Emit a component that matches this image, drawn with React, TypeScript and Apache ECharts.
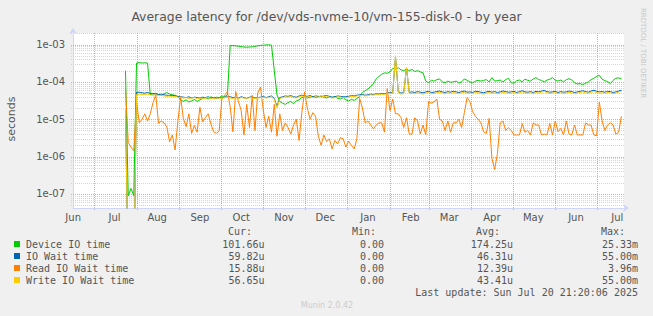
import React, { useEffect, useRef } from 'react';
import * as echarts from 'echarts';

const chartTitle = 'Average latency for /dev/vds-nvme-10/vm-155-disk-0 - by year';
const startTime = Date.UTC(2024, 5, 15, 21, 20, 6);
const endTime = Date.UTC(2025, 6, 20, 21, 20, 6);
const firstSample = Date.UTC(2024, 6, 24);
const sampleStepDays = 2;
const DAY = 86400000;

const monthNames = ['Jan', 'Feb', 'Mar', 'Apr', 'May', 'Jun', 'Jul', 'Aug', 'Sep', 'Oct', 'Nov', 'Dec'];
const monthStarts = ['2024-07-01', '2024-08-01', '2024-09-01', '2024-10-01', '2024-11-01', '2024-12-01',
  '2025-01-01', '2025-02-01', '2025-03-01', '2025-04-01', '2025-05-01', '2025-06-01', '2025-07-01'];
const monthLabelDates = ['2024-06-16', '2024-07-16', '2024-08-16', '2024-09-16', '2024-10-16', '2024-11-16',
  '2024-12-16', '2025-01-16', '2025-02-16', '2025-03-16', '2025-04-16', '2025-05-16', '2025-06-16', '2025-07-16'];

const yMin = 4.2e-8;
const yMax = 2.04e-3;
const decadeTicks = [1e-8, 1e-7, 1e-6, 1e-5, 1e-4, 1e-3];
const minorMultipliers = [2, 3, 4, 5, 6, 7, 8, 9];

// values in microseconds, one sample every 2 days from 2024-07-24
const deviceIO = [
  200, 0.09, 0.14, 0.09, 320, 330, 320, 325, 320, 45,
  48, 50, 46, 44, 48, 52, 47, 45, 44, 40,
  33, 30, 33, 29, 31, 34, 30, 33, 36, 38,
  35, 40, 37, 39, 38, 42, 40, 45, 950, 940,
  930, 900, 880, 860, 850, 860, 870, 900, 930, 950,
  960, 980, 980, 970, 200, 45, 30, 27, 25, 28,
  30, 26, 31, 33, 38, 40, 37, 39, 41, 38,
  40, 42, 39, 37, 40, 38, 41, 36, 35, 38,
  33, 31, 34, 32, 36, 40, 52, 58, 65, 75,
  90, 120, 140, 160, 175, 170, 185, 230, 220, 240,
  210, 200, 220, 200, 215, 190, 200, 185, 175, 105,
  95, 110, 105, 115, 120, 100, 95, 105, 98, 100,
  105, 93, 100, 120, 110, 100, 95, 105, 110, 105,
  110, 115, 100, 130, 105, 108, 112, 100, 115, 125,
  95, 92, 108, 112, 100, 118, 110, 105, 120, 130,
  115, 110, 100, 112, 118, 130, 110, 105, 112, 100,
  115, 122, 112, 95, 88, 90, 85, 92, 100, 115,
  125, 140, 150, 118, 108, 102, 90, 110, 125, 128, 120,
];
const ioWait = [
  20, 0, 0, 0, 52, 53, 51, 50, 52, 49,
  48, 47, 46, 47, 45, 44, 43, 44, 42, 41,
  40, 39, 38, 40, 37, 39, 38, 37, 39, 38,
  40, 37, 38, 36, 38, 37, 39, 40, 40, 38,
  39, 37, 40, 38, 36, 39, 40, 37, 38, 39,
  41, 38, 40, 42, 36, 22, 38, 40, 42, 41,
  43, 40, 39, 42, 44, 42, 41, 43, 40, 42,
  41, 40, 42, 43, 41, 39, 40, 42, 41, 40,
  40, 41, 43, 42, 44, 45, 46, 44, 45, 47,
  46, 48, 47, 49, 48, 50, 52, 51, 480, 55,
  50, 52, 240, 52, 54, 52, 55, 53, 51, 54,
  56, 52, 53, 55, 57, 54, 52, 55, 53, 56,
  54, 52, 55, 57, 53, 54, 52, 56, 55, 53,
  51, 54, 56, 53, 55, 52, 54, 57, 55, 53,
  54, 56, 52, 55, 58, 54, 53, 55, 52, 56,
  54, 57, 59, 55, 53, 54, 56, 52, 55, 53,
  54, 57, 55, 52, 54, 56, 58, 55, 53, 57,
  60, 56, 54, 55, 53, 56, 55, 52, 54, 57, 60,
];
const readWait = [
  70, 2.4, 1.8, 1.4, 30, 8, 10, 14, 9, 14,
  28, 45, 7.8, 9, 8, 6.3, 2.5, 3.8, 1.5, 8.6,
  40, 10.5, 6.3, 14, 4.2, 6.8, 4.5, 21, 8.6, 11,
  14, 7.5, 4.6, 4.2, 4.8, 37, 44, 55, 21.5, 4.6,
  55, 30, 17, 3.8, 25, 6, 44, 5, 50, 73,
  18, 6, 12, 4.5, 25, 3.5, 14, 5, 8, 6,
  4, 7, 10, 2.7, 15, 54, 20, 10, 15, 12,
  3.5, 2, 3.8, 2.5, 3, 1.6, 2.7, 2.2, 3.2, 3,
  1.8, 2.6, 2, 1.6, 3, 36, 20, 8, 9, 7,
  5.5, 7, 8, 8, 4.5, 66, 17, 35, 14, 14,
  11, 6, 11, 4, 4, 11, 9, 4, 7, 3.8,
  30, 27, 29, 35, 10, 9, 5, 9, 4.5, 8,
  8, 10, 6, 15, 38, 30, 16, 12, 10, 8,
  4.6, 4.2, 10.5, 0.9, 0.45, 1.2, 8, 9, 5, 6,
  5, 3.8, 3.8, 3.8, 7.7, 4.5, 5, 3.8, 8, 7,
  7, 3.8, 4, 3.8, 7.7, 3.8, 9, 4.6, 5.7, 3.8,
  9, 4, 3.8, 7, 3.8, 3.8, 3.8, 8, 7, 7,
  3.8, 3.6, 29, 9, 5, 7, 8, 7, 4, 4.5, 12,
];
const writeWait = [
  20, 0, 0, 0, 46, 47, 45, 46, 47, 45,
  44, 45, 43, 44, 42, 41, 42, 40, 41, 39,
  38, 37, 38, 36, 37, 38, 36, 37, 36, 37,
  38, 36, 37, 35, 37, 36, 38, 39, 37, 36,
  38, 36, 38, 37, 35, 38, 37, 36, 37, 38,
  39, 37, 38, 40, 34, 20, 36, 38, 40, 39,
  41, 38, 37, 40, 42, 40, 39, 41, 38, 40,
  39, 42, 40, 41, 39, 37, 38, 40, 39, 38,
  38, 39, 41, 40, 42, 43, 44, 42, 43, 45,
  44, 46, 45, 47, 46, 48, 50, 49, 500, 52,
  47, 49, 250, 49, 50, 48, 51, 49, 47, 50,
  52, 48, 49, 51, 53, 50, 48, 51, 49, 52,
  50, 48, 51, 53, 49, 50, 48, 52, 51, 49,
  47, 50, 52, 49, 51, 48, 50, 53, 51, 49,
  50, 52, 48, 51, 54, 50, 49, 51, 48, 52,
  50, 53, 55, 51, 49, 50, 52, 48, 51, 49,
  50, 53, 51, 48, 50, 52, 54, 51, 49, 53,
  55, 52, 50, 51, 49, 52, 51, 48, 50, 53, 56,
];

const legendNames = ['Device IO time', 'IO Wait time', 'Read IO Wait time', 'Write IO Wait time'];
const legendColors = ['#00CC00', '#0066B3', '#FF8000', '#FFCC00'];
const curValues = ['101.66u', '59.82u', '15.88u', '56.65u'];
const minValues = ['0.00', '0.00', '0.00', '0.00'];
const avgValues = ['174.25u', '46.31u', '12.39u', '43.41u'];
const maxValues = ['25.33m', '55.00m', '3.96m', '55.00m'];
const columnHeads = ['Cur:', 'Min:', 'Avg:', 'Max:'];
const lastUpdate = 'Last update: Sun Jul 20 21:20:06 2025';
const footer = 'Munin 2.0.42';
const sideText = 'RRDTOOL / TOBI OETIKER';

const seriesValues = [deviceIO, ioWait, readWait, writeWait];

const FONT = 'DejaVu Sans';
const MONO = 'DejaVu Sans Mono';
const TXT = '#555555';

function toPoints(values: number[]) {
  return values.map((us, i) => [
    firstSample + i * sampleStepDays * DAY,
    us === 0 ? yMin / 100 : us * 1e-6,
  ]);
}

function buildOption() {
  const monthStartTs = monthStarts.map((d) => Date.parse(d + 'T00:00:00Z'));
  const labelTs = monthLabelDates.map((d) => Date.parse(d + 'T00:00:00Z'));
  const majors = decadeTicks.filter((v) => v >= yMin && v <= yMax);
  const minors: number[] = [];
  decadeTicks.forEach((d) => minorMultipliers.forEach((m) => {
    const v = m * d;
    if (v > yMin && v < yMax) minors.push(v);
  }));

  const hLine = (values: number[], color: string) => ({
    type: 'custom',
    silent: true,
    z: 1,
    data: values.map((v) => [startTime, v]),
    renderItem: (params: any, api: any) => {
      const cs = params.coordSys;
      const y = Math.round(api.coord([startTime, api.value(1)])[1]) + 0.5;
      return {
        type: 'line',
        silent: true,
        shape: { x1: cs.x - 2, y1: y, x2: cs.x + cs.width, y2: y },
        style: { stroke: color, lineWidth: 1, lineDash: [1, 1] },
      };
    },
  });

  const vLine = {
    type: 'custom',
    silent: true,
    z: 1,
    data: monthStartTs.map((t) => [t, yMin]),
    renderItem: (params: any, api: any) => {
      const cs = params.coordSys;
      const x = Math.round(api.coord([api.value(0), yMin])[0]) + 0.5;
      return {
        type: 'line',
        silent: true,
        shape: { x1: x, y1: cs.y, x2: x, y2: cs.y + cs.height + 2 },
        style: { stroke: '#F0A0A0', lineWidth: 1, lineDash: [1, 1] },
      };
    },
  };

  const rowY = (r: number) => 244 + r * 12;
  const graphics: any[] = [];
  const txt = (text: string, x: number, y: number, align: string, opts: any = {}) => ({
    type: 'text',
    x,
    y,
    rotation: opts.rotation || 0,
    silent: true,
    style: {
      text,
      fill: opts.color || TXT,
      fontSize: opts.size || 10,
      fontFamily: opts.family || MONO,
      align,
      verticalAlign: 'middle',
      textAlign: align,
      textVerticalAlign: 'middle',
    },
  });
  const headRight = [252, 376, 500, 625];
  columnHeads.forEach((h, c) => graphics.push(txt(h, headRight[c], 231, 'right')));
  const valRight = [264.5, 384, 513, 638];
  legendNames.forEach((name, r) => {
    const y = rowY(r);
    graphics.push({
      type: 'rect',
      silent: true,
      shape: { x: 14, y: y - 3, width: 6, height: 6 },
      style: { fill: legendColors[r] },
    });
    graphics.push(txt(name, 26, y, 'left'));
    [curValues, minValues, avgValues, maxValues].forEach((col, c) => {
      graphics.push(txt(col[r], valRight[c], y, 'right'));
    });
  });
  graphics.push(txt(lastUpdate, 638, 292, 'right'));
  graphics.push(txt(footer, 327, 305, 'center', { color: '#CCCCCC', size: 8, family: FONT }));
  graphics.push(txt('seconds', 11, 119, 'center', { rotation: Math.PI / 2, size: 11, family: FONT }));
  graphics.push(txt(sideText, 643, 53, 'center', { rotation: -Math.PI / 2, size: 7, family: FONT, color: '#C8C8C8' }));

  return {
    animation: false,
    backgroundColor: '#F0F0F0',
    title: {
      text: chartTitle,
      left: 'center',
      top: 5,
      textStyle: { fontSize: 12.4, fontWeight: 'normal', color: TXT, fontFamily: FONT },
    },
    grid: {
      left: 73, top: 33, width: 551, height: 175,
      show: true, backgroundColor: '#FFFFFF', borderWidth: 0,
      containLabel: false, outerBoundsMode: 'none',
    },
    xAxis: {
      type: 'value',
      min: startTime,
      max: endTime,
      axisLine: {
        show: true,
        lineStyle: { color: '#CFD6F8', width: 1 },
        symbol: ['none', 'arrow'],
        symbolSize: [6, 6],
        symbolOffset: [0, 5],
      },
      axisTick: { show: false },
      splitLine: { show: false },
      axisLabel: {
        customValues: labelTs,
        formatter: (v: number) => monthNames[new Date(v).getUTCMonth()],
        color: TXT,
        fontSize: 10,
        fontFamily: FONT,
        margin: 4,
      },
    },
    yAxis: {
      type: 'log',
      logBase: 10,
      min: yMin,
      max: yMax,
      axisLine: {
        show: true,
        lineStyle: { color: '#CFD6F8', width: 1 },
        symbol: ['none', 'arrow'],
        symbolSize: [6, 6],
        symbolOffset: [0, 5],
      },
      axisTick: { show: false },
      splitLine: { show: false },
      axisLabel: {
        formatter: (v: number) => {
          const l = Math.log10(v);
          const e = Math.round(l);
          if (Math.abs(l - e) > 1e-6) return '';
          return '1e-' + String(-e).padStart(2, '0');
        },
        color: TXT,
        fontSize: 10,
        fontFamily: FONT,
        margin: 8,
      },
    },
    graphic: graphics,
    series: [
      hLine(minors, '#D4D4D4'),
      hLine(majors, '#F0A0A0'),
      vLine,
      ...seriesValues.map((vals, k) => ({
        type: 'line',
        name: legendNames[k],
        z: 3 + k,
        data: toPoints(vals),
        showSymbol: false,
        symbol: 'none',
        silent: true,
        clip: true,
        lineStyle: { color: legendColors[k], width: 1 },
        itemStyle: { color: legendColors[k] },
      })),
    ],
  };
}

export default function App() {
  const ref = useRef<HTMLDivElement>(null);
  useEffect(() => {
    const chart = echarts.init(ref.current!, null, { renderer: 'svg' });
    chart.setOption(buildOption() as any);
    return () => chart.dispose();
  }, []);
  return (
    <div
      ref={ref}
      style={{ position: 'fixed', left: 0, top: 0, width: 653, height: 316 }}
    />
  );
}
